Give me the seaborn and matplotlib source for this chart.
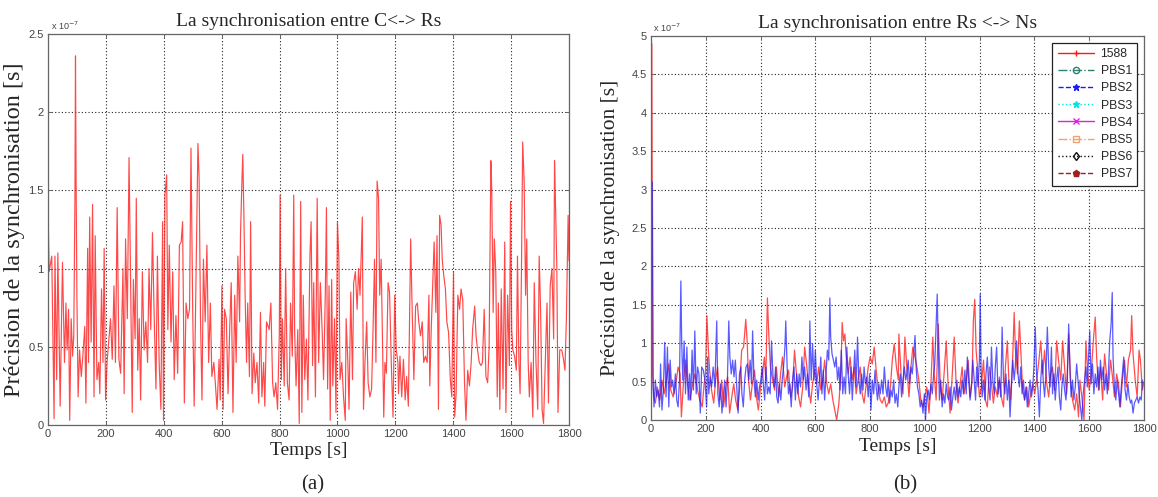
import numpy as np
import matplotlib
matplotlib.use("Agg")
import matplotlib.pyplot as plt
from matplotlib.lines import Line2D
from matplotlib.ticker import FuncFormatter, MultipleLocator
import seaborn as sns

# ---------------- data (values in units of 1e-7 s) ----------------
t_a = [0, 2, 4, 13, 21, 24, 30, 34, 42, 50, 57, 62, 66, 71, 75, 80, 85, 89, 93, 95, 97, 100, 104, 109, 115, 121,
       127, 131, 137, 140, 144, 149, 154, 159, 163, 169, 175, 179, 185, 190, 194, 199, 204, 216, 222, 228, 233,
       239, 245, 251, 259, 263, 268, 274, 280, 286, 291, 295, 301, 305, 310, 315, 320, 326, 332, 338, 344, 349,
       355, 361, 367, 373, 378, 384, 390, 396, 399, 404, 410, 414, 419, 425, 431, 436, 442, 448, 454, 460, 465,
       471, 477, 483, 489, 494, 500, 505, 510, 518, 522, 527, 532, 537, 543, 549, 555, 561, 566, 573, 578, 584,
       591, 595, 601,
       605, 610, 616, 622, 628, 633, 639, 645, 650, 656, 662, 665, 670, 673, 677, 681, 686, 690, 696, 700, 705,
       711, 716, 722, 728, 734, 739, 745, 749, 755, 764, 770, 776, 781, 787, 793, 799, 802, 806, 810, 816, 821,
       827, 833, 838, 844, 849, 852, 857, 863, 868, 873, 877, 882, 887, 893, 898, 905, 909, 914, 918, 924, 930,
       935, 941, 947, 952, 958, 962, 966, 971, 975, 980, 984, 990, 995, 1000, 1005, 1009, 1015, 1021, 1027, 1030,
       1036, 1040, 1046, 1052, 1056, 1062, 1068, 1073, 1078, 1081, 1086, 1090, 1095, 1101, 1106, 1112, 1118, 1123,
       1128, 1133, 1137, 1142, 1146, 1151, 1155, 1160, 1164, 1169, 1175, 1180, 1186, 1192, 1198, 1203, 1209,
       1211, 1216, 1222, 1228, 1234, 1239, 1245, 1253, 1257, 1264, 1270, 1276, 1281, 1287, 1293, 1298, 1304, 1310,
       1316, 1319, 1324, 1328, 1334, 1340, 1344, 1349, 1353, 1358, 1362, 1367, 1373, 1378, 1384, 1390, 1395, 1401,
       1405, 1410, 1416, 1422, 1427, 1433, 1439, 1444, 1450, 1456, 1462, 1467, 1474, 1479, 1484, 1490, 1496, 1501,
       1507, 1513, 1519, 1524, 1530, 1533, 1538, 1542, 1547, 1552, 1556, 1561, 1566, 1572, 1578, 1582, 1588, 1594,
       1598, 1602, 1606, 1612, 1618, 1622, 1627, 1631, 1636, 1640, 1645, 1650, 1654, 1659, 1663, 1669, 1675, 1680,
       1686, 1692, 1697, 1702, 1707, 1712, 1718, 1724, 1729, 1735, 1741, 1747, 1750, 1753, 1758, 1762, 1768, 1775,
       1781, 1786, 1791, 1797, 1800]
v_a = [1.41, 1.18, 0.98, 1.08, 0.04, 1.08, 0.29, 1.10, 0.12, 1.04, 0.40, 0.78, 0.48, 0.74, 0.03, 0.68, 0.44, 0.57,
       1.43, 2.36, 1.58, 0.80, 0.18, 0.48, 0.31, 0.46, 0.63, 0.14, 1.13, 0.40, 1.33, 0.53, 1.41, 0.18, 1.21, 0.29,
       0.40, 0.20, 0.87, 0.40, 1.13, 0.16, 0.40, 0.68, 0.42, 0.89, 0.40, 1.39, 0.42, 0.33, 1.00, 0.20, 1.19, 0.68,
       1.71, 0.83, 0.08, 0.93, 0.55, 1.45, 0.35, 0.68, 0.16, 0.98, 0.48, 0.66, 0.40, 1.00, 0.61, 1.23, 0.68, 0.23,
       1.08, 0.40, 0.10, 1.30, 0.03, 1.47, 1.60, 0.61, 1.15, 0.53, 0.98, 0.29, 0.70, 0.33, 1.15, 1.17, 1.30, 0.14,
       0.78, 0.68, 0.74, 1.77, 0.72, 0.12, 0.78, 1.80, 1.58, 0.66, 0.16, 1.06, 0.66, 1.15, 0.40, 0.78, 0.31, 0.40,
       0.27, 0.10, 0.42, 0.16, 0.89,
       0.10, 0.74, 0.68, 0.20, 0.63, 0.91, 0.08, 0.83, 0.40, 1.08, 0.66, 1.21, 1.56, 1.73, 1.32, 0.83, 0.40, 0.78,
       0.31, 1.30, 0.20, 0.46, 0.27, 0.40, 0.14, 0.72, 0.18, 0.40, 0.12, 0.66, 0.61, 0.78, 0.27, 0.18, 0.27, 0.10,
       0.57, 1.47, 0.29, 0.68, 0.25, 1.00, 0.27, 0.16, 0.78, 0.44, 1.47, 0.61, 0.25, 0.61, 0.01, 1.43, 0.08, 0.83,
       0.29, 0.55, 0.16, 1.08, 1.30, 0.38, 0.91, 0.18, 1.45, 0.40, 0.91, 0.61, 0.29, 0.83, 1.39, 0.23, 0.89, 0.03,
       0.93, 0.25, 0.68, 0.08, 1.30, 1.06, 0.29, 0.40, 0.18, 0.03, 0.68, 0.40, 0.10, 0.85, 0.29, 0.91, 0.98, 0.74,
       1.00, 0.83, 1.02, 1.33, 0.10, 0.40, 0.66, 0.27, 0.18, 0.23, 0.61, 1.06, 0.40, 1.56, 1.45, 0.83, 1.06, 0.61,
       0.05, 0.40, 0.33, 0.91, 0.85, 0.40, 0.05, 0.83, 0.48, 0.40,
       0.20, 0.44, 0.18, 0.42, 0.16, 0.31, 0.12, 1.19, 0.83, 0.29, 0.76, 0.78, 0.66, 0.57, 0.66, 0.40, 0.44, 0.40,
       0.83, 0.25, 0.61, 0.83, 1.17, 0.72, 1.21, 0.10, 1.34, 1.28, 1.06, 0.96, 0.87, 0.66, 0.59, 0.29, 0.18, 0.98,
       0.05, 0.20, 0.83, 0.74, 0.87, 0.80, 0.27, 0.03, 0.35, 0.25, 0.40, 0.61, 0.76, 0.57, 0.48, 0.40, 0.38, 0.40,
       0.74, 0.31, 0.27, 0.50, 1.69, 1.51, 0.72, 1.19, 0.98, 0.18, 0.78, 0.10, 0.87, 0.23, 1.17, 0.08, 0.83, 0.38,
       1.43, 0.61, 0.48, 0.44, 0.35, 1.08, 0.40, 0.20, 1.04, 1.81, 1.56, 0.83, 1.19, 0.40, 0.18, 0.40, 0.05, 0.91,
       0.40, 0.10, 1.08, 0.72, 0.10, 0.01, 0.40, 0.78, 0.14, 0.89, 1.00, 0.55, 1.69, 1.45, 1.00, 0.08, 0.48, 0.48,
       0.42, 0.35, 0.68, 1.34, 1.05]

t_1588 = [0, 3, 6, 10, 16, 23, 32, 40, 48, 56, 65, 72, 81, 89, 99, 106, 111, 119, 126, 133, 142, 150, 160, 170,
          178, 187, 194, 199, 204, 209, 214, 221, 229, 236, 243, 251, 258, 265, 273, 280, 287, 295, 302, 309, 317,
          324, 331, 338, 346, 351, 356, 363, 370, 378, 385, 392, 400, 407, 414, 419, 425, 430, 436, 444, 451, 458,
          466, 473, 480, 488, 495, 502, 510, 517, 524, 532, 539, 546, 554, 561, 568, 576, 583, 590, 598, 605, 612,
          620, 627, 634, 642, 649, 656, 664, 671, 678, 686, 693, 698, 703, 708, 712, 720, 727, 734, 742, 749, 756,
          764, 771, 778, 786, 793, 800, 808, 815, 822, 830, 837, 844, 852, 859, 866, 874, 881, 888, 896, 903,
          905, 913, 920, 927, 934, 942, 949, 956, 964, 971, 978, 985, 993, 1000, 1007, 1015, 1022, 1029, 1034, 1041,
          1049, 1056, 1063, 1070, 1078, 1085, 1092, 1100, 1107, 1114, 1121, 1129, 1136, 1143, 1151, 1158, 1165,
          1172, 1177, 1182, 1187, 1192, 1199, 1206, 1214, 1221, 1228, 1236, 1243, 1250, 1257, 1265, 1272, 1279,
          1287, 1294, 1301, 1306, 1313, 1321, 1326, 1330, 1338, 1345, 1350, 1357, 1364, 1372, 1379, 1386, 1394,
          1401, 1408, 1415, 1423, 1430, 1437, 1445, 1452, 1459, 1466, 1474, 1481, 1488, 1496, 1503, 1510, 1517,
          1525, 1532, 1539, 1547, 1554, 1561, 1566, 1573, 1581, 1588, 1593, 1600, 1607, 1615, 1622, 1627, 1634,
          1641, 1649, 1656, 1663, 1670, 1678, 1685, 1692, 1700, 1707, 1714, 1721, 1729, 1736, 1743, 1751, 1755,
          1760, 1768, 1775, 1782, 1787, 1794, 1800]
v_1588 = [1.30, 4.90, 0.60, 0.30, 0.22, 0.43, 0.26, 0.52, 0.34, 0.52, 0.73, 0.39, 0.30, 0.43, 0.69, 0.60, 0.04,
          0.52, 0.78, 0.47, 0.26, 0.43, 0.60, 0.39, 0.26, 0.17, 0.47, 0.60, 1.36, 0.95, 0.65, 0.39, 0.22, 0.52,
          0.69, 0.26, 0.52, 0.17, 0.43, 0.56, 0.09, 0.30, 0.47, 0.26, 0.13, 0.43, 0.91, 0.95, 1.31, 1.03, 0.52,
          0.26, 0.47, 0.65, 0.30, 0.13, 0.43, 0.60, 0.82, 0.52, 1.59, 1.12, 0.69, 0.52, 0.39, 0.69, 0.30, 0.60,
          0.82, 0.43, 0.56, 0.65, 0.30, 0.43, 0.91, 0.56, 0.30, 0.17, 0.43, 0.95, 0.73, 0.43, 0.22, 0.47, 0.65,
          0.47, 0.69, 0.39, 0.52, 0.78, 0.47, 0.34, 0.47, 0.26, 0.13, 0.00, 0.22, 0.60, 1.27, 1.03, 1.12, 0.86,
          0.60, 0.82, 0.52, 0.69, 0.34, 0.52, 0.69, 0.34, 0.22, 0.47, 0.69, 0.82, 0.73, 0.95, 0.65, 0.39, 0.26,
          0.22, 0.30, 0.17, 0.22, 0.43, 0.78, 0.99, 0.69, 0.52,
          1.12, 0.60, 0.34, 1.08, 0.69, 0.30, 0.69, 0.95, 0.82, 0.69, 0.52, 0.26, 0.17, 0.30, 0.43, 0.09, 0.47,
          1.08, 0.60, 0.26, 1.25, 0.47, 0.26, 0.60, 1.03, 0.43, 0.09, 0.60, 1.08, 0.47, 0.22, 0.47, 0.69, 0.34,
          0.52, 0.78, 0.30, 0.52, 1.29, 1.57, 0.91, 0.69, 0.30, 0.43, 0.78, 0.26, 0.17, 0.69, 0.47, 0.22, 0.43,
          0.30, 0.56, 0.30, 0.17, 0.69, 1.03, 0.56, 0.26, 0.86, 1.40, 0.95, 0.60, 1.29, 0.91, 0.39, 0.26, 0.43,
          0.17, 0.34, 0.47, 0.34, 0.52, 0.73, 1.03, 0.60, 0.91, 0.47, 0.30, 0.60, 0.69, 0.39, 1.03, 0.78, 0.52,
          1.03, 0.69, 0.34, 1.12, 0.52, 0.26, 0.13, 0.34, 0.04, 0.52, 0.30, 0.00, 1.03, 0.69, 0.39, 0.60, 1.03,
          1.34, 0.82, 0.39, 0.69, 0.26, 0.86, 0.60, 0.39, 0.78, 0.56, 0.30, 0.60, 0.47, 0.17, 0.52, 0.78, 0.43,
          0.78, 0.91, 1.36, 0.86, 0.52, 0.30, 0.91, 0.78, 0.39, 0.50]

t_pbs2 = [0, 5, 8, 11, 16, 21, 26, 31, 35, 40, 45, 50, 55, 60, 65, 70, 75, 79, 84, 89, 94, 99, 104, 109, 112,
          116, 121, 126, 131, 136, 141, 145, 150, 155, 160, 165, 170, 175, 180, 185, 191, 197, 203, 207, 211, 216,
          221, 227, 233, 240, 244, 249, 254, 259, 264, 269, 274, 279, 284, 288, 293, 298, 303, 308, 313, 318, 323,
          328, 332, 337, 342, 347, 352, 357, 362, 367, 371, 376, 381, 386, 391, 396, 401, 406, 411, 415, 420, 425,
          430, 435, 440, 445, 450, 455, 459, 464, 469, 474, 479, 484, 489, 492, 497, 502, 507, 512, 517, 522, 527,
          532, 536, 541, 546, 551, 556, 561, 566, 571, 576, 580, 585, 590, 595, 600, 605, 610, 615, 620, 624, 629,
          634, 639, 644, 649, 653, 656, 661, 666, 671, 676, 681, 686, 690, 695, 700, 705, 710, 715, 720, 725, 730,
          735, 739, 744, 749, 754, 759, 764, 769, 774, 778, 783, 788, 793, 798, 803, 808, 813, 818, 822, 827, 832,
          837, 842, 847, 852, 857, 862, 866, 871, 876, 881, 886, 891, 896, 901,
          905, 910, 915, 920, 925, 930, 934, 939, 944, 949, 954, 959, 964, 968, 973, 978, 983, 988, 993, 998, 1002,
          1007, 1012, 1017, 1022, 1027, 1032, 1036, 1041, 1045, 1049, 1053, 1058, 1063, 1068, 1073, 1078, 1083,
          1087, 1092, 1097, 1102, 1107, 1112, 1117, 1121, 1126, 1131, 1136, 1141, 1146, 1151, 1155, 1160, 1165,
          1170, 1175, 1180, 1185, 1189, 1194, 1199, 1202, 1205, 1209, 1214, 1219, 1223, 1228, 1233, 1238, 1243,
          1248, 1253, 1257, 1262, 1267, 1272, 1277, 1282, 1287, 1292, 1296, 1301, 1306, 1311, 1316, 1321, 1326,
          1330, 1335, 1340, 1345, 1350, 1355, 1360, 1364, 1369, 1374, 1379, 1384, 1389, 1394, 1398, 1403, 1408,
          1413, 1418, 1423, 1428, 1432, 1437, 1442, 1447, 1452, 1457, 1462, 1466, 1471, 1476, 1481, 1486, 1491,
          1496, 1500, 1505, 1510, 1515, 1520, 1525, 1530, 1534, 1539, 1544, 1549, 1554, 1559, 1564, 1568, 1573,
          1578, 1583, 1588, 1593, 1598, 1602, 1607, 1612, 1617, 1622, 1627, 1632, 1636, 1641, 1646, 1651, 1656,
          1661, 1666, 1670, 1675, 1680, 1684, 1687, 1692, 1697, 1702, 1707, 1712, 1717, 1721, 1726, 1731, 1736,
          1741, 1746, 1751, 1755, 1760, 1765, 1770, 1775, 1780, 1785, 1790, 1794]
v_pbs2 = [0.90, 3.10, 0.43, 0.17, 0.52, 0.30, 0.39, 0.17, 0.73, 0.13, 0.39, 1.01, 0.30, 0.95, 0.17, 0.78,
          0.43, 0.52, 0.34, 0.60, 0.26, 0.17, 0.52, 1.81, 1.03, 0.52, 1.03, 0.34, 0.95, 0.26, 0.60, 0.26, 0.91,
          0.39, 1.16, 0.34, 0.69, 0.60, 0.09, 0.69, 0.65, 0.52, 0.17, 0.82, 0.34, 0.56, 0.43, 0.69, 0.43, 1.29,
          0.34, 0.17, 0.47, 0.09, 0.30, 0.52, 0.17, 0.52, 1.29, 0.82, 0.60, 0.78, 0.56, 0.78, 0.43, 0.09, 0.60,
          0.69, 0.34, 0.17, 0.52, 0.69, 0.73, 0.52, 0.78, 0.47, 1.16, 0.52, 0.30, 0.52, 0.26, 0.43, 0.52, 0.69,
          0.43, 0.26, 0.69, 0.34, 0.43, 0.34, 1.03, 0.60, 0.43, 0.69, 0.30, 0.22, 0.47, 0.26, 0.52, 0.69, 0.95,
          1.29, 0.69, 0.34, 0.47, 0.17, 0.52, 0.69, 0.26, 0.60, 0.34, 0.60, 0.43, 0.82, 0.52, 0.69, 0.39, 0.60,
          0.30, 1.29, 0.52, 0.99, 0.52, 0.91, 0.47, 0.26, 0.52, 0.82, 0.34, 0.65, 0.26, 0.60, 0.91, 0.78, 1.59,
          1.08, 0.86, 0.78, 0.69, 0.82, 0.52, 0.69, 0.39, 0.91, 0.34, 0.56, 0.34, 0.95, 0.60, 0.34, 0.69, 0.26,
          0.56, 0.91, 0.43, 1.08, 0.52, 0.34, 0.60, 0.39, 0.69, 0.47, 0.56, 0.30, 0.60, 0.13, 0.52, 0.34, 0.65,
          0.43, 0.26, 0.47, 0.34, 0.52, 0.34, 0.69, 0.43, 0.30, 0.52, 0.22, 0.39, 0.30, 0.52, 0.22, 0.34, 0.17,
          0.43, 0.60, 0.30, 0.52, 0.69, 0.52, 0.60, 0.78, 0.47, 0.69, 0.60, 0.86, 1.10, 0.69, 0.43, 0.34, 0.17,
          0.26, 0.09, 0.34, 0.00, 0.30, 0.39, 0.26, 0.47, 0.34, 0.60, 0.73, 1.25, 1.64, 0.91, 0.26, 0.52, 0.17,
          0.34, 0.22, 0.47, 0.30, 0.26, 0.43, 0.13, 0.30, 0.43, 0.26, 0.52, 0.30, 0.43, 0.30, 0.52, 0.34, 0.65,
          0.34, 0.82, 0.52, 0.26, 0.43, 0.78, 0.52, 0.26, 0.69, 0.43, 0.78, 1.64, 0.69, 0.30, 0.52, 0.26, 0.60,
          0.82, 0.43, 0.26, 0.95, 0.52, 0.34, 0.69, 0.95, 0.34, 0.52, 0.30, 1.21, 0.52, 0.34, 0.60, 0.26, 0.52,
          0.04, 0.43, 0.78, 0.52, 0.69, 1.03, 0.60, 0.43, 0.69, 0.34, 0.52, 0.26, 0.43, 0.17, 0.34, 0.52, 0.30,
          0.43, 0.69, 1.21, 0.60, 0.39, 0.04, 0.52, 0.78, 0.52, 0.30, 0.60, 1.21, 0.69, 0.43, 0.95, 0.34, 0.60,
          0.26, 0.52, 0.69, 0.30, 0.13, 0.43, 0.60, 0.39, 0.26, 0.52, 1.25, 0.60, 0.30, 0.52, 0.26, 0.43, 0.73,
          0.52, 0.30, 0.17, 0.00, 0.34, 0.52, 0.69, 0.43, 0.86, 1.16, 0.47, 0.73, 0.34, 0.60, 0.43, 0.69, 0.39,
          0.78, 0.52, 0.69, 0.39, 0.60, 0.34, 0.60, 1.03, 1.25, 1.66, 0.82, 0.43, 0.26, 0.52, 0.34, 0.17, 0.43,
          0.60, 0.82, 0.39, 0.26, 0.47, 0.30, 0.22, 0.26, 0.09, 0.22, 0.26, 0.30, 0.22, 0.30, 0.26, 0.52]

legend_labels = ["1588", "PBS1", "PBS2", "PBS3", "PBS4", "PBS5", "PBS6", "PBS7"]
x_ticks = [0, 200, 400, 600, 800, 1000, 1200, 1400, 1600, 1800]
title_a = "La synchronisation entre C<-> Rs"
title_b = "La synchronisation entre Rs <-> Ns"
ylabel = "Précision de la synchronisation [s]"
xlabel = "Temps [s]"

# ---------------- styling ----------------
sns.set_theme(style="white")
plt.rcParams["font.family"] = ["Liberation Sans", "DejaVu Sans"]
SERIF = ["Liberation Serif", "DejaVu Serif"]

fig = plt.figure(figsize=(11.58, 4.97), dpi=100)
W, H = 1158, 497
ax_a = fig.add_axes([48 / W, 1 - 425 / H, (569 - 48) / W, (425 - 34) / H])
ax_b = fig.add_axes([651 / W, 1 - 420 / H, (1144 - 651) / W, (420 - 36) / H])

sns.lineplot(x=t_a, y=v_a, ax=ax_a, color="#ff1a1a", linewidth=0.85, alpha=0.8,
             estimator=None, sort=False)
sns.lineplot(x=t_1588, y=v_1588, ax=ax_b, color="#ff1a1a", linewidth=0.9, alpha=0.78,
             estimator=None, sort=False)
sns.lineplot(x=t_pbs2, y=v_pbs2, ax=ax_b, color="#1a1aff", linewidth=0.9, alpha=0.72,
             estimator=None, sort=False)

fmt = FuncFormatter(lambda v, p: f"{v:g}")
panels = [(ax_a, 2.5, title_a, 14, 17.5, (-0.044, 0.5), (0.5, -0.043)),
          (ax_b, 5.0, title_b, 14, 15.5, (-0.062, 0.5), (0.5, -0.047))]
for ax, ymax, title, tsize, ysize, ycoords, xcoords in panels:
    ax.set_xlim(0, 1800)
    ax.set_ylim(0, ymax)
    ax.set_xticks(x_ticks)
    ax.yaxis.set_major_locator(MultipleLocator(0.5))
    ax.yaxis.set_major_formatter(fmt)
    ax.grid(True, color="#222222", linestyle=(0, (1, 2)), linewidth=0.8)
    for s in ax.spines.values():
        s.set_color("#666666")
        s.set_linewidth(0.9)
    ax.tick_params(direction="in", length=3, width=0.7, color="#666666", labelsize=8,
                   labelcolor="#444444", top=True, right=True, bottom=True, left=True, pad=3)
    ax.set_title(title, fontsize=tsize, family=SERIF, pad=6)
    ax.set_xlabel(xlabel, fontsize=14, family=SERIF)
    ax.set_ylabel(ylabel, fontsize=ysize, family=SERIF)
    ax.yaxis.set_label_coords(*ycoords)
    ax.xaxis.set_label_coords(*xcoords)
    ax.text(0.005, 1.006, r"x 10$^{-7}$", transform=ax.transAxes, fontsize=6.5,
            color="#444444", ha="left", va="bottom")

# legend (MATLAB style)
styles = [
    dict(color="#ff1a1a", linestyle="-", marker="+"),
    dict(color="#2f7f72", linestyle="-.", marker="o", markerfacecolor="none"),
    dict(color="#1a1aff", linestyle="--", marker="*"),
    dict(color="#00e5e5", linestyle=":", marker="*"),
    dict(color="#e020e0", linestyle="-", marker="x"),
    dict(color="#f4a070", linestyle="-.", marker="s", markerfacecolor="none"),
    dict(color="#111111", linestyle=":", marker="d", markerfacecolor="none"),
    dict(color="#a02020", linestyle="--", marker="p"),
]
handles = [Line2D([], [], linewidth=1.0, markersize=4.5, label=lab, **st)
           for lab, st in zip(legend_labels, styles)]
leg = ax_b.legend(handles=handles, loc="upper right", fontsize=8.8, frameon=True, fancybox=False,
                  edgecolor="#222222", framealpha=1, handlelength=3.0, labelspacing=0.42,
                  borderaxespad=0.55, borderpad=0.45, handletextpad=0.5)
leg.get_frame().set_linewidth(0.9)

fig.text(313 / W, 1 - 485 / H, "(a)", fontsize=15, family=SERIF, ha="center", va="center")
fig.text(905 / W, 1 - 485 / H, "(b)", fontsize=15, family=SERIF, ha="center", va="center")

fig.savefig("out.png", dpi=100, facecolor="white")
